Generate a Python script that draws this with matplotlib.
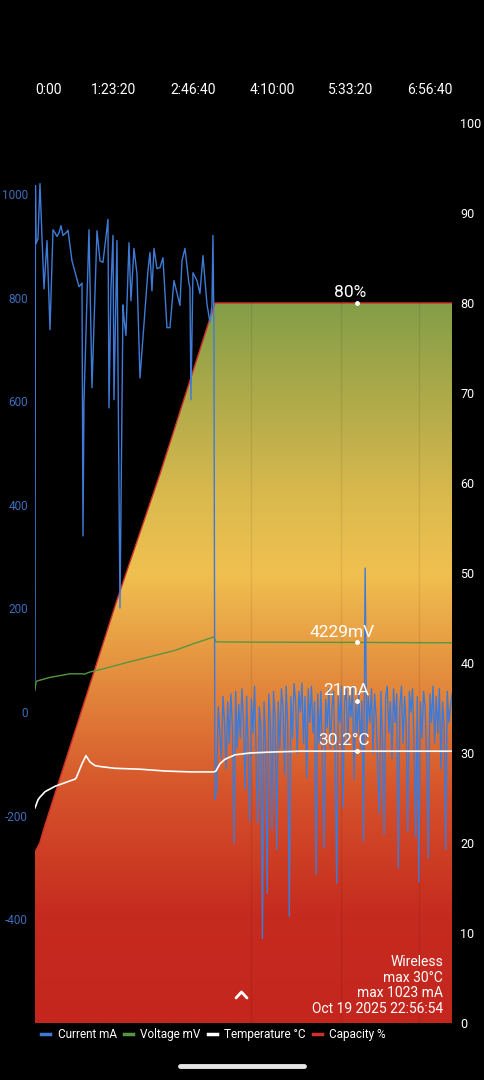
import numpy as np
import matplotlib
matplotlib.use("Agg")
import matplotlib.pyplot as plt
from matplotlib.colors import LinearSegmentedColormap
from matplotlib.lines import Line2D

plt.rcParams['font.family'] = ['Roboto', 'DejaVu Sans']
plt.rcParams['axes.unicode_minus'] = False

# time axis (seconds since start)
tick_pos = [0, 5000, 10000, 15000, 20000, 25000]
tick_lbl = ["0:00", "1:23:20", "2:46:40", "4:10:00", "5:33:20", "6:56:40"]
t_end = 26400

# capacity %
cap_t = [0, 300, 633, 5190, 7911, 11392, 26400]
cap_v = [19, 20, 22, 47, 61, 80, 80]

# current mA, charging phase
cur1_t = [0, 30, 63, 190, 316, 443, 570, 760, 949, 1139, 1266, 1392, 1519, 1646,
          1772, 1962, 2089, 2342, 2785, 2975, 3038, 3101, 3418, 3608, 3924, 4114,
          4304, 4620, 4684, 4810, 4937, 5000, 5190, 5380, 5570, 5633, 5759, 5949,
          6076, 6266, 6456, 6646, 6962, 7152, 7278, 7405, 7532, 7722, 7911, 8101,
          8354, 8544, 8797, 9177, 9304, 9494, 9747, 9810, 9873, 10000, 10253,
          10443, 10633, 10886, 11076, 11203, 11266, 11329, 11392]
cur1_v = [60, 1016, 904, 914, 1020, 916, 817, 910, 738, 931, 925, 918, 925, 939,
          920, 925, 930, 871, 821, 828, 340, 600, 931, 626, 929, 871,
          868, 951, 587, 819, 920, 603, 910, 201, 786, 760, 727, 906,
          794, 895, 846, 645, 775, 852, 887, 813, 895, 856, 858, 877,
          742, 742, 833, 785, 871, 895, 827, 820, 603, 848, 833,
          808, 881, 788, 752, 785, 920, 732, -168]

# current mA, maintaining phase (logged every 100 s from 11500 s)
cur2_t = np.arange(11500, 26401, 100)
cur2_v = [-149, 10, -40, -90, 30, -20, -110, 20, -60, 35,
          -30, -253, 40, -70, 15, -50, 45, -20, -149, 30,
          -80, -211, 25, -40, 50, -90, -214, 10, -30, -437,
          20, -60, -350, 35, -20, -226, 40, -10, -265, 20,
          -70, 45, 10, -120, 50, -30, -394, 30, -50, 55,
          20, -80, 40, 0, 56, -60, 30, -127, 45, -20,
          50, -40, 20, -313, 35, -60, 40, -100, -262, 25,
          -30, 45, -70, 10, 40, -90, -330, 30, -20, 50,
          -185, 20, 45, -60, 30, -10, 50, -130, 25, -40,
          40, -70, 21, -249, 278, -50, 30, -20, 45, -80,
          35, -10, -108, -195, 40, -60, -236, 30, 50, -40,
          20, -90, 45, -20, 35, -301, 10, 50, -60, 30,
          -30, -230, 40, 0, 45, -70, -240, 30, -328, 20,
          -50, 40, 10, -90, -282, 35, -20, 50, -60, 30,
          -40, 45, -110, 20, -30, -265, 40, -20, 10, 35]

# voltage mV
volt_t = [0, 63, 127, 949, 2215, 2975, 3101, 3481, 4430, 5696, 7278, 8861,
          10127, 11329, 11456, 13608, 16772, 20380, 26400]
volt_v = [3700, 3790, 3800, 3840, 3880, 3880, 3875, 3900, 3940, 4000, 4070,
          4140, 4220, 4290, 4235, 4232, 4230, 4229, 4224]

# temperature °C
temp_t = [0, 190, 316, 633, 949, 1266, 1899, 2532, 2600, 2975, 3228, 3481,
          3797, 4114, 5063, 6646, 8228, 9810, 11329, 11456, 11709, 12025,
          12658, 13608, 14873, 16772, 26400]
temp_v = [23.9, 24.8, 25.1, 25.7, 26.0, 26.3, 26.7, 27.1, 27.2, 28.8, 29.7, 29.0,
          28.6, 28.5, 28.3, 28.2, 28.0, 27.9, 27.9, 28.0, 28.8, 29.3,
          29.8, 30.0, 30.1, 30.2, 30.2]

marker_t = 20380
marker_cap, marker_mv, marker_ma, marker_temp = 80, 4229, 21, 30.2
event_t = [13671, 19367, 24304]
info = ["Wireless", "max 30°C", "max 1023 mA", "Oct 19 2025 22:56:54"]

blue = '#3F7BD6'
green = '#55973F'
red = '#D0302A'

fig = plt.figure(figsize=(4.84, 10.8), dpi=100, facecolor='black')
ax = fig.add_axes([35/484, 1-1023/1080, 417/484, 900/1080])
ax.set_facecolor('black')

# capacity fill with vertical gradient
stops = [(0, '#C4261E'), (12/80, '#C62B1F'), (25/80, '#D5512A'), (38/80, '#E38B3D'),
         (50/80, '#F0C050'), (58/80, '#DCBA4E'), (68/80, '#B4AC4A'), (1, '#839E47')]
cmap = LinearSegmentedColormap.from_list('cap', stops)
poly = ax.fill_between(cap_t, cap_v, 0, facecolor='none', edgecolor='none')
grad = np.linspace(0, 1, 256).reshape(-1, 1)
im = ax.imshow(grad, cmap=cmap, extent=[0, t_end, 0, 80], origin='lower',
               aspect='auto', zorder=1)
im.set_clip_path(poly.get_paths()[0], transform=ax.transData)
ax.plot(cap_t, cap_v, color=red, lw=1.0, zorder=2)
for t in event_t:
    ax.axvline(t, color='black', alpha=0.07, lw=1, zorder=2)

ax.plot(volt_t, np.array(volt_v) / 100, color=green, lw=1.0, zorder=3)

ax.set_xlim(0, t_end)
ax.set_ylim(0, 100)
ax.set_yticks(range(0, 101, 10))
ax.xaxis.tick_top()
ax.set_xticks(tick_pos)
ax.set_xticklabels(tick_lbl)
ax.tick_params(axis='x', colors='white', labelsize=10, length=0, pad=19)
ax.get_xticklabels()[0].set_horizontalalignment('left')
for s in ax.spines.values():
    s.set_visible(False)

# current on the left axis
axc = ax.twinx()
axc.plot(cur1_t, cur1_v, color=blue, lw=1.0)
axc.plot(cur2_t, cur2_v, color=blue, lw=1.0)
axc.plot([cur1_t[-1], cur2_t[0]], [cur1_v[-1], cur2_v[0]], color=blue, lw=1.0)
axc.set_ylim(-600, 1137)
axc.set_yticks(range(-400, 1001, 200))
axc.yaxis.tick_left()
axc.tick_params(axis='y', colors='#3D6CB8', labelsize=8.5, length=0, pad=5)
axc.tick_params(axis='x', which='both', top=False, labeltop=False,
                bottom=False, labelbottom=False)
for s in axc.spines.values():
    s.set_visible(False)

# temperature on top
axt = ax.twinx()
axt.set_ylim(0, 100)
axt.plot(temp_t, temp_v, color='white', lw=1.2)
axt.set_yticks([])
axt.tick_params(axis='x', which='both', top=False, labeltop=False,
                bottom=False, labelbottom=False)
for s in axt.spines.values():
    s.set_visible(False)

# capacity scale ticks on the right (after twinx, which moves them)
ax.yaxis.set_ticks_position('right')
ax.tick_params(axis='y', colors='white', labelsize=9, length=0, pad=6,
               left=False, labelleft=False, right=False, labelright=True)

# highlighted values
marks = [(marker_cap, f"{marker_cap}%", -5),
         (marker_mv / 100, f"{marker_mv}mV", -11),
         (None, f"{marker_ma}mA", -8),
         (marker_temp, f"{marker_temp}°C", -9)]
for yv, txt, dx in marks:
    if yv is None:
        axc.plot(marker_t, marker_ma, 'o', color='white', ms=2.5, zorder=5)
        axc.annotate(txt, (marker_t, marker_ma), xytext=(dx, 2),
                     textcoords='offset points', ha='center', va='bottom',
                     color='white', fontsize=12.5)
    else:
        axt.plot(marker_t, yv, 'o', color='white', ms=2.5, zorder=5)
        axt.annotate(txt, (marker_t, yv), xytext=(dx, 2),
                     textcoords='offset points', ha='center', va='bottom',
                     color='white', fontsize=12.5)

fig.text(443/484, 1-1016/1080, "\n".join(info), ha='right', va='bottom',
         color='white', fontsize=10, linespacing=1.15)

# chevron and home bar
fig.add_artist(Line2D([236/484, 241.5/484, 247/484],
                      [1-998/1080, 1-992/1080, 1-998/1080],
                      color='white', lw=2, solid_capstyle='round'))
fig.add_artist(Line2D([180/484, 304/484], [1-1066/1080, 1-1066/1080],
                      color='#E6E6E6', lw=3.5, solid_capstyle='round'))

handles = [Line2D([], [], color=blue, lw=2.5),
           Line2D([], [], color=green, lw=2.5),
           Line2D([], [], color='white', lw=2.5),
           Line2D([], [], color=red, lw=2.5)]
labels = ["Current mA", "Voltage mV", "Temperature °C", "Capacity %"]
leg = fig.legend(handles, labels, loc='upper left', ncol=4, frameon=False,
                 bbox_to_anchor=(41/484, 1-1028/1080), fontsize=8.5,
                 handlelength=0.8, handletextpad=0.6, columnspacing=0.6,
                 borderaxespad=0, borderpad=0)
for t in leg.get_texts():
    t.set_color('white')

fig.savefig('out.png', dpi=100, facecolor='black')
